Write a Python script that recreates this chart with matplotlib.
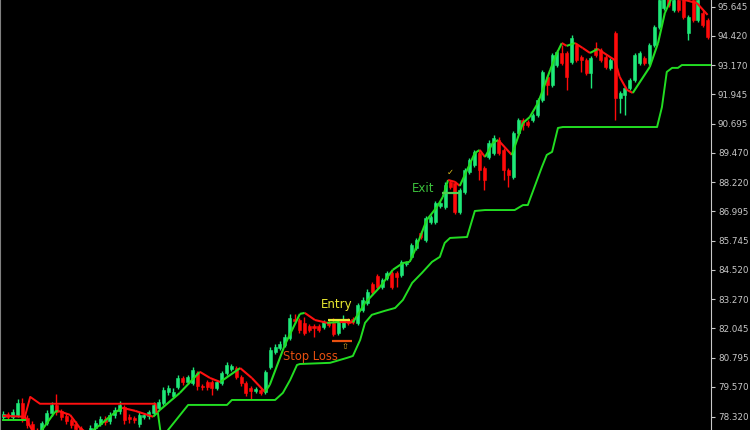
import numpy as np
import matplotlib
matplotlib.use('Agg')
import matplotlib.pyplot as plt
from matplotlib.collections import LineCollection

# candle data (price)
opens = [78.31, 78.43, 78.31, 78.39, 78.90, 78.26, 78.01, 77.71, 77.54, 78.05,
         78.47, 78.81, 78.56, 78.35, 78.18, 78.01, 77.84, 77.63, 77.50, 77.84,
         78.01, 78.22, 78.14, 78.39, 78.56, 78.73, 78.31, 78.26, 78.01, 78.31,
         78.35, 78.47, 78.69, 78.90, 79.36, 79.19, 79.57, 79.95, 79.78, 79.74,
         80.16, 79.61, 79.78, 79.78, 79.53, 79.74, 80.16, 80.33, 80.37, 80.00,
         79.74, 79.53, 79.40, 79.44, 79.36, 80.42, 81.05, 81.22, 81.35, 81.64,
         82.45, 82.40, 82.28, 82.15, 82.15, 82.15, 82.11, 82.32, 82.28, 81.86,
         82.11, 82.40, 82.45, 82.28, 82.83, 83.12, 83.93, 84.26, 83.80, 84.18,
         84.39, 84.39, 84.31, 84.77, 85.07, 85.45, 86.08, 85.79, 86.55, 86.55,
         87.22, 87.18, 88.24, 88.20, 86.97, 87.81, 88.66, 88.96, 89.46, 88.83,
         89.29, 89.46, 90.01, 89.59, 88.74, 88.45, 90.31, 90.86, 90.77, 90.86,
         91.07, 91.70, 92.68, 92.34, 93.18, 93.69, 93.69, 93.31, 94.03, 93.52,
         93.39, 92.84, 93.90, 93.82, 93.52, 93.06, 94.53, 91.79, 91.91, 92.21,
         92.55, 93.27, 93.48, 93.27, 94.03, 94.79, 95.59, 96.14, 95.51, 95.93,
         95.93, 94.53, 95.93, 95.08, 95.38, 95.08]
closes = [78.43, 78.31, 78.52, 78.90, 78.22, 77.97, 77.67, 77.46, 78.05, 78.47,
          78.81, 78.52, 78.31, 78.14, 77.97, 77.80, 77.59, 77.46, 77.84, 78.05,
          78.22, 78.09, 78.39, 78.60, 78.81, 78.18, 78.22, 78.18, 78.39, 78.39,
          78.52, 78.81, 78.94, 79.44, 79.53, 79.36, 79.95, 79.78, 80.00, 80.29,
          79.61, 79.57, 79.57, 79.53, 79.78, 80.16, 80.50, 80.46, 80.00, 79.74,
          79.32, 79.40, 79.49, 79.32, 80.21, 81.14, 81.26, 81.39, 81.69, 82.49,
          82.36, 81.98, 81.86, 81.98, 82.07, 81.98, 82.32, 82.19, 81.81, 82.32,
          82.40, 82.28, 82.32, 83.04, 83.25, 83.59, 83.59, 83.80, 84.09, 84.39,
          83.80, 84.22, 84.86, 84.81, 85.57, 85.79, 85.91, 86.72, 86.76, 87.35,
          87.35, 88.11, 88.03, 86.97, 87.90, 88.74, 89.17, 89.51, 88.74, 88.32,
          89.89, 90.10, 89.46, 88.74, 88.53, 90.31, 90.86, 90.65, 90.65, 91.07,
          91.70, 92.89, 92.34, 93.61, 93.73, 93.27, 92.68, 94.32, 93.39, 93.39,
          92.84, 93.48, 93.61, 93.39, 93.10, 93.39, 91.79, 92.00, 92.21, 92.55,
          93.61, 93.69, 93.27, 94.03, 94.79, 95.93, 96.14, 95.72, 95.93, 95.51,
          95.21, 95.21, 95.08, 95.93, 94.87, 94.37]
highs = [78.56, 78.52, 78.64, 79.07, 79.11, 78.39, 78.14, 77.84, 78.14, 78.60,
         78.94, 79.28, 78.64, 78.47, 78.26, 78.14, 77.92, 77.75, 77.97, 78.18,
         78.35, 78.35, 78.52, 78.73, 78.98, 78.81, 78.43, 78.35, 78.52, 78.47,
         78.60, 78.94, 79.07, 79.57, 79.66, 79.53, 80.08, 80.04, 80.08, 80.42,
         80.25, 79.70, 79.87, 79.87, 79.87, 80.25, 80.63, 80.54, 80.46, 80.08,
         79.83, 79.61, 79.57, 79.53, 80.29, 81.26, 81.39, 81.52, 81.81, 82.66,
         82.66, 82.49, 82.53, 82.24, 82.24, 82.24, 82.40, 82.40, 82.49, 82.40,
         82.62, 82.49, 82.53, 83.12, 83.38, 83.71, 84.01, 84.35, 84.18, 84.48,
         84.48, 84.48, 84.94, 84.90, 85.66, 85.87, 86.17, 86.80, 86.84, 87.43,
         87.43, 88.24, 88.32, 88.28, 87.98, 88.83, 89.25, 89.59, 89.59, 88.91,
         90.01, 90.22, 90.14, 89.67, 88.83, 90.39, 90.94, 90.94, 90.86, 91.15,
         91.79, 92.97, 92.76, 93.69, 93.82, 94.03, 93.77, 94.45, 94.11, 93.61,
         93.48, 93.56, 94.15, 93.90, 93.61, 93.48, 94.62, 92.08, 92.30, 92.63,
         93.69, 93.77, 93.56, 94.11, 94.87, 96.06, 96.27, 96.27, 96.06, 96.06,
         96.06, 95.30, 96.06, 96.06, 95.51, 95.17]
lows = [78.18, 78.18, 78.22, 78.31, 78.09, 77.84, 77.50, 77.29, 77.42, 77.97,
        78.35, 78.39, 78.18, 78.01, 77.84, 77.67, 77.46, 77.29, 77.38, 77.71,
        77.92, 77.97, 78.01, 78.26, 78.43, 78.01, 78.05, 78.05, 77.88, 78.22,
        78.22, 78.39, 78.60, 78.81, 79.24, 79.11, 79.49, 79.66, 79.70, 79.66,
        79.44, 79.44, 79.44, 79.24, 79.44, 79.66, 80.08, 80.25, 79.91, 79.61,
        79.19, 79.07, 79.32, 79.24, 79.28, 80.33, 80.97, 81.14, 81.26, 81.56,
        82.28, 81.86, 81.77, 81.90, 81.69, 81.90, 82.02, 82.11, 81.73, 81.77,
        82.02, 82.19, 82.24, 82.19, 82.74, 83.04, 83.46, 83.71, 83.71, 84.09,
        83.71, 83.80, 84.22, 84.69, 84.98, 85.36, 85.83, 85.70, 86.46, 86.46,
        87.14, 87.10, 87.94, 86.89, 86.89, 87.73, 88.57, 88.87, 88.32, 87.90,
        89.21, 89.38, 89.38, 88.32, 88.03, 88.36, 90.22, 90.44, 90.56, 90.77,
        90.98, 91.62, 91.91, 92.25, 93.10, 93.18, 92.13, 93.23, 93.31, 92.89,
        92.76, 92.21, 93.52, 93.31, 93.01, 92.97, 90.86, 91.15, 91.07, 92.13,
        92.46, 93.18, 93.18, 93.18, 93.94, 94.70, 95.51, 95.63, 95.42, 95.42,
        95.13, 94.24, 95.00, 95.00, 94.79, 94.28]

# trend line (coloured by direction)
ma_idx = [0, 4.5, 6.2, 7.6, 10.7, 11.3, 13.8, 15.8, 17.5, 20.0, 22.4, 24.5,
          27.2, 30.9, 32.3, 36.4, 40.5, 42.6, 44.7, 48.8, 51.2, 53.9, 54.9,
          58.0, 61.1, 62.1, 64.2, 66.7, 69.3, 72.0, 74.5, 77.6, 80.2, 82.3,
          83.7, 84.8, 87.2, 89.3, 90.5, 91.6, 93.0, 94.0, 97.1, 98.1, 99.2,
          100.8, 101.9, 104.7, 107.0, 108.4, 110.1, 112.6, 114.0, 115.0, 116.0,
          117.7, 119.3, 120.8, 122.4, 125.9, 126.9, 128.4, 129.6, 133.1, 134.8,
          136.2, 137.7, 140.3, 142.8, 145.0]
ma_val = [78.35, 78.31, 77.67, 77.63, 78.52, 78.56, 78.39, 77.84, 77.59, 77.97,
          78.39, 78.69, 78.56, 78.31, 78.60, 79.32, 80.21, 79.95, 79.78, 80.37,
          79.95, 79.36, 79.66, 81.35, 82.66, 82.70, 82.40, 82.28, 82.32, 82.30,
          83.12, 83.80, 84.52, 84.81, 84.86, 85.36, 86.63, 87.18, 87.60, 88.32,
          88.24, 88.07, 89.46, 89.59, 89.29, 89.89, 90.01, 89.38, 90.73, 90.98,
          91.58, 92.97, 93.69, 94.11, 93.99, 94.11, 93.90, 93.69, 93.86, 93.39,
          92.68, 92.13, 92.00, 93.10, 94.11, 95.38, 96.06, 95.93, 95.80, 95.30]

# trailing stop lines
up_stop1_idx = [0, 4.5]
up_stop1_val = [78.18, 78.18]
dn_stop_idx = [4.5, 5.6, 7.6, 31.4, 31.6]
dn_stop_val = [78.31, 79.15, 78.86, 78.86, 78.52]
up_stop_idx = [31.9, 32.6, 38.1, 46.1, 47.1, 56.0, 57.6, 59.1, 60.5, 61.1,
               67.3, 69.3, 70.8, 72.0, 73.5, 74.5, 75.9, 78.6, 80.7, 82.3,
               84.2, 86.2, 88.3, 89.9, 90.9, 92.0, 95.5, 97.1, 99.2, 105.3,
               107.0, 108.0, 110.9, 111.9, 113.0, 114.2, 115.2, 134.6, 135.6,
               136.6, 137.7, 138.9, 139.7, 145.7]
up_stop_val = [78.43, 77.40, 78.81, 78.81, 79.02, 79.02, 79.32, 79.87, 80.50,
               80.54, 80.59, 80.71, 80.80, 80.88, 81.56, 82.28, 82.62, 82.79,
               82.91, 83.25, 83.97, 84.39, 84.86, 85.07, 85.66, 85.87, 85.91,
               87.01, 87.05, 87.05, 87.26, 87.26, 88.87, 89.38, 89.51, 90.52,
               90.56, 90.56, 91.40, 92.89, 93.06, 93.06, 93.18, 93.18]

price_ticks = [78.320, 79.570, 80.795, 82.045, 83.270, 84.520, 85.745, 86.995,
               88.220, 89.470, 90.695, 91.945, 93.170, 94.420, 95.645]

entry_level, entry_span = 82.40, (66.9, 71.4)
sl_level, sl_span = 81.53, (67.7, 71.8)
exit_level, exit_span = 87.77, (90.3, 94.0)

BULL = '#1ee878'
BEAR = '#ff0a0a'

fig = plt.figure(figsize=(7.5, 4.3), dpi=100, facecolor='black')
ax = fig.add_axes([0, 0, 711 / 750, 1])
ax.set_facecolor('black')

o = np.array(opens)
c = np.array(closes)
x = np.arange(len(o))
cols = [BULL if cc >= oo else BEAR for oo, cc in zip(o, c)]

ax.vlines(x, lows, highs, colors=cols, linewidth=1.0, zorder=2)
ax.bar(x, np.abs(c - o), bottom=np.minimum(o, c), width=0.62, color=cols,
       edgecolor=cols, linewidth=0.4, zorder=3)

# trend line, green rising / red falling
pts = np.column_stack([ma_idx, ma_val])
segs = np.stack([pts[:-1], pts[1:]], axis=1)
seg_cols = ['#22dd22' if b >= a else '#ff1010' for a, b in zip(ma_val[:-1], ma_val[1:])]
ax.add_collection(LineCollection(segs, colors=seg_cols, linewidths=1.5, zorder=4))

ax.plot(up_stop1_idx, up_stop1_val, color='#22dd22', lw=1.4, zorder=4)
ax.plot(dn_stop_idx, dn_stop_val, color='#ff1010', lw=1.4, zorder=4)
ax.plot(up_stop_idx, up_stop_val, color='#22dd22', lw=1.4, zorder=4)

# trade annotations
ax.hlines(entry_level, *entry_span, color='#e8e830', lw=1.6, zorder=5)
ax.hlines(sl_level, *sl_span, color='#e85010', lw=1.6, zorder=5)
ax.hlines(exit_level, *exit_span, color='#50d050', lw=1.6, zorder=5)
ax.text(68.7, 83.04, 'Entry', color='#e8e830', fontsize=8.5, ha='center', va='center', zorder=6)
ax.text(63.2, 80.86, 'Stop Loss', color='#e85010', fontsize=8.3, ha='center', va='center', zorder=6)
ax.text(86.4, 87.98, 'Exit', color='#3cc03c', fontsize=8.5, ha='center', va='center', zorder=6)
ax.text(70.3, 81.30, '\u21e7', color='#d8a020', fontsize=6, ha='center', va='center', zorder=6)
ax.text(92.0, 88.62, '\u2713', color='#e0c020', fontsize=6, ha='center', va='center', zorder=6)

ax.set_xlim(-0.62, 145.7)
ax.set_ylim(77.75, 95.93)
ax.set_xticks([])
ax.yaxis.tick_right()
ax.set_yticks(price_ticks)
ax.set_yticklabels([f'{v:.3f}' for v in price_ticks])
ax.tick_params(axis='y', colors='#c8c8c8', labelsize=6.3, length=3, width=0.8, pad=2)
for s in ['top', 'bottom']:
    ax.spines[s].set_visible(False)
ax.spines['right'].set_color('#c8c8c8')
ax.spines['left'].set_color('#808080')

fig.savefig('out.png', dpi=100, facecolor='black')
